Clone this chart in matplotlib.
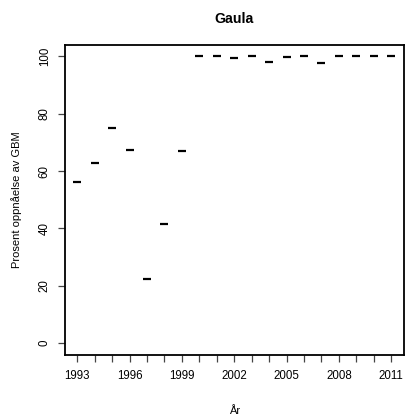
import matplotlib
matplotlib.use("Agg")
import matplotlib.pyplot as plt

years = list(range(1993, 2012))
percent = [56.1, 62.8, 74.9, 67.2, 22.5, 41.5, 67.0,
           100.0, 100.0, 99.5, 100.0, 98.0, 99.7, 100.0, 97.8,
           100.0, 100.0, 100.0, 100.0]
yticks = [0, 20, 40, 60, 80, 100]

plt.rcParams['font.family'] = ['Liberation Sans', 'DejaVu Sans']

fig = plt.figure(figsize=(4.06, 4.16), dpi=100)
ax = fig.add_axes([0.1594, 0.1474, 0.8349, 0.7449])

idx = list(range(1, len(years) + 1))
ax.plot(idx, percent, linestyle='none', marker='_', markersize=5.6,
        markeredgewidth=1.6, color='black')

ax.set_xlim(1 - 0.72, len(years) + 0.72)
ax.set_ylim(-4, 104)

# label every third year, tick every year
ax.set_xticks(idx)
ax.set_xticklabels([str(y) if (y - 1993) % 3 == 0 else '' for y in years])
ax.set_yticks(yticks)
ax.set_yticklabels([str(v) for v in yticks], rotation=90, va='center')

ax.tick_params(axis='both', length=5, width=0.9, color='#444444',
               labelsize=8.3, direction='out')
ax.tick_params(axis='x', pad=6)
ax.tick_params(axis='y', pad=5)

for s in ax.spines.values():
    s.set_linewidth(1.3)

ax.set_title('Gaula', fontsize=10.2, fontweight='bold', pad=16)
ax.set_xlabel('År', fontsize=8, labelpad=17)
ax.set_ylabel('Prosent oppnåelse av GBM', fontsize=8, labelpad=12)

fig.savefig('out.png', dpi=100)
